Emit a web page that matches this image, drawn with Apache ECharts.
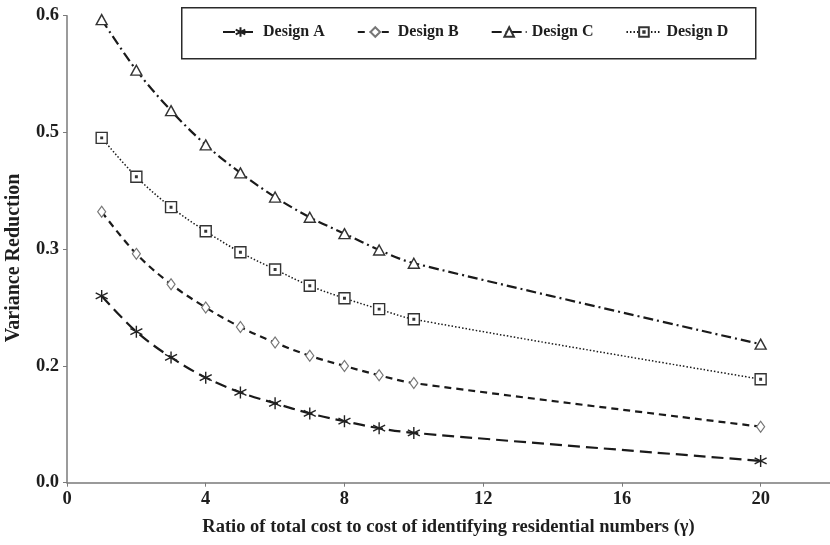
<!DOCTYPE html>
<html>
<head>
<meta charset="utf-8">
<script src="https://cdn.jsdelivr.net/npm/echarts@6/dist/echarts.min.js"></script>
<style>
html,body{margin:0;padding:0;background:#fff;}
#chart{width:830px;height:545px;}
</style>
</head>
<body>
<div id="chart"></div>
<script>
// ---- data ----
const xValues = [1, 2, 3, 4, 5, 6, 7, 8, 9, 10, 20];
const seriesNames = ['Design A', 'Design B', 'Design C', 'Design D'];
const designA = [0.240, 0.194, 0.161, 0.135, 0.116, 0.102, 0.089, 0.079, 0.070, 0.064, 0.028];
const designB = [0.348, 0.294, 0.255, 0.225, 0.200, 0.180, 0.163, 0.150, 0.138, 0.128, 0.072];
const designC = [0.595, 0.530, 0.478, 0.434, 0.398, 0.367, 0.341, 0.320, 0.299, 0.282, 0.178];
const designD = [0.443, 0.393, 0.354, 0.323, 0.296, 0.274, 0.253, 0.237, 0.223, 0.210, 0.133];
const yTickLabels = ['0.0', '0.2', '0.3', '0.5', '0.6'];
const xTitle = 'Ratio of total cost to cost of identifying residential numbers (\u03b3)';
const yTitle = 'Variance Reduction';

function pairs(vals) { return xValues.map((x, i) => [x, vals[i]]); }

const FONT = '"Liberation Serif", "Times New Roman", serif';
const INK = '#1e1e1e';
const AXIS = '#7a7a7a';
const AXFS = 18.5;

const symAsterisk = 'path://M5,0L5,10M0.7,2.5L9.3,7.5M0.7,7.5L9.3,2.5';
const symSquareDot = 'path://M0,0H10V10H0Z M4.3,4.3H5.7V5.7H4.3Z';

const chart = echarts.init(document.getElementById('chart'), null, {renderer: 'canvas'});

const option = {
  backgroundColor: '#fff',
  animation: false,
  textStyle: {fontFamily: FONT},
  grid: {left: 67, right: -5.5, top: 15.7, bottom: 62.3, containLabel: false},
  graphic: [{
    type: 'rect', left: 181, top: 7, z: 0,
    shape: {width: 574, height: 51},
    style: {fill: '#fff', stroke: '#2a2a2a', lineWidth: 1.5}
  }, {
    type: 'text', x: 14, y: 258, rotation: Math.PI / 2, z: 10,
    style: {
      text: yTitle, fill: INK, textAlign: 'center', textVerticalAlign: 'middle',
      font: 'bold 20px "Liberation Serif", "Times New Roman", serif'
    }
  }],
  legend: {
    data: seriesNames,
    left: 222, top: 24,
    itemWidth: 35, itemHeight: 12, itemGap: 32,
    padding: 0,
    z: 5,
    textStyle: {fontFamily: FONT, fontWeight: 'bold', fontSize: 16, color: INK, lineHeight: 16}
  },
  xAxis: {
    type: 'value', min: 0, max: 22, interval: 4,
    name: xTitle, nameLocation: 'middle', nameGap: 35,
    nameTextStyle: {fontFamily: FONT, fontWeight: 'bold', fontSize: AXFS, color: INK},
    axisLine: {show: true, lineStyle: {color: AXIS, width: 1.5}},
    axisTick: {show: true, length: 4, lineStyle: {color: AXIS, width: 1}},
    axisLabel: {showMaxLabel: false, margin: 7, fontFamily: FONT, fontWeight: 'bold', fontSize: AXFS, color: INK},
    splitLine: {show: false}
  },
  yAxis: {
    type: 'value', min: 0, max: 0.6, interval: 0.15,
    axisLine: {show: true, lineStyle: {color: AXIS, width: 1.5}},
    axisTick: {show: true, length: 4, lineStyle: {color: AXIS, width: 1}},
    axisLabel: {
      margin: 8, fontFamily: FONT, fontWeight: 'bold', fontSize: AXFS, color: INK,
      formatter: (v, i) => yTickLabels[i]
    },
    splitLine: {show: false}
  },
  series: [
    {
      name: 'Design A', type: 'line', data: pairs(designA), smooth: 0.35,
      symbol: symAsterisk, symbolSize: 12,
      itemStyle: {color: '#fff', borderColor: '#222', borderWidth: 1.4},
      lineStyle: {color: '#1a1a1a', width: 2.2, type: [12, 6]}
    },
    {
      name: 'Design B', type: 'line', data: pairs(designB), smooth: 0.35,
      symbol: 'diamond', symbolSize: [8, 11],
      itemStyle: {color: '#fff', borderColor: '#777', borderWidth: 1.2},
      lineStyle: {color: '#1a1a1a', width: 2.2, type: [7, 5]}
    },
    {
      name: 'Design C', type: 'line', data: pairs(designC), smooth: 0.35,
      symbol: 'triangle', symbolSize: [11, 10],
      itemStyle: {color: '#fff', borderColor: '#333', borderWidth: 1.4},
      lineStyle: {color: '#1a1a1a', width: 2.2, type: [10, 4, 2, 4]}
    },
    {
      name: 'Design D', type: 'line', data: pairs(designD), smooth: 0.35,
      symbol: symSquareDot, symbolSize: 11,
      itemStyle: {color: '#fff', borderColor: '#333', borderWidth: 1.4},
      lineStyle: {color: '#1a1a1a', width: 1.5, type: [1.5, 2]}
    }
  ]
};
chart.setOption(option);
</script>
</body>
</html>
